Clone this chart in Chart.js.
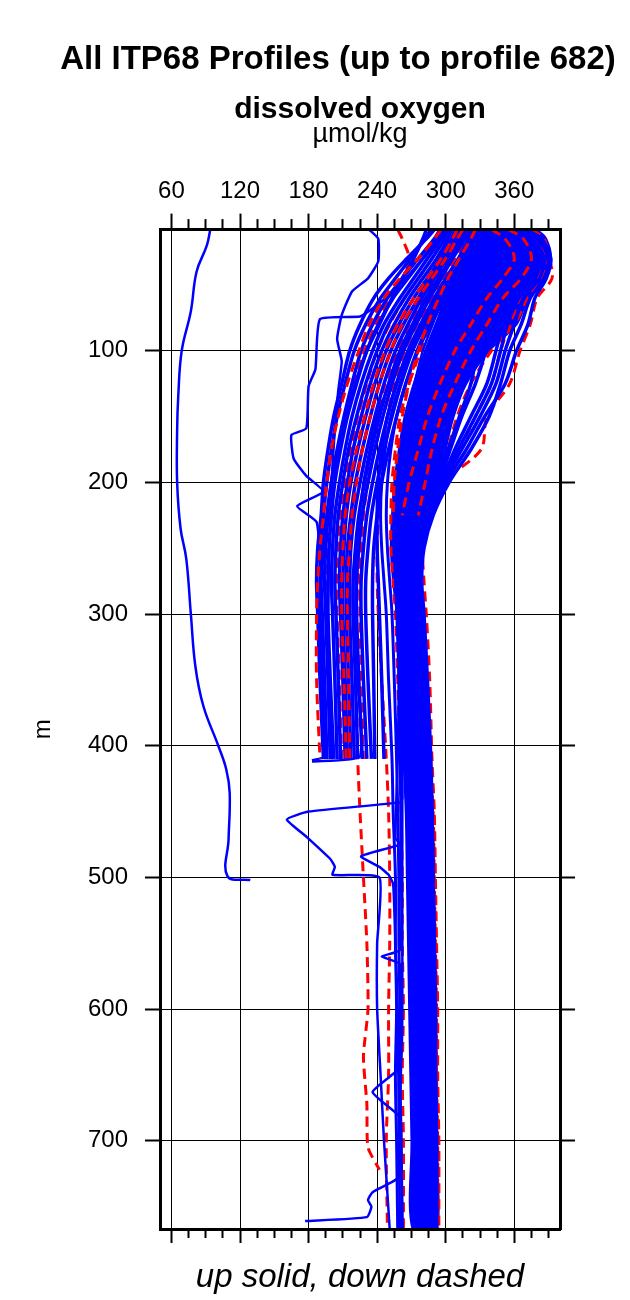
<!DOCTYPE html>
<html>
<head>
<meta charset="utf-8">
<title>All ITP68 Profiles - dissolved oxygen</title>
<script src="https://cdn.jsdelivr.net/npm/chart.js@4.4.1/dist/chart.umd.min.js"></script>
<style>
    html, body { margin: 0; padding: 0; background: #fff; }
    #wrap { width: 630px; height: 1300px; }
</style>
</head>
<body>
<div id="wrap"><canvas id="profileChart" width="630" height="1300"></canvas></div>
<script>
// axis ranges and tick labels
const oxygenRange = [50, 400];
const depthRange = [8, 767];
const oxygenTicks = [60, 120, 180, 240, 300, 360];
const depthTicks = [100, 200, 300, 400, 500, 600, 700];

// depth levels (m) shared by the smooth profiles below
const depthLevels = [8, 15, 30, 45, 60, 80, 100, 125, 150, 175, 200, 225, 250, 275, 300, 350, 410, 450, 500, 550, 600, 650, 700, 767];

// dense core of the up profiles, left and right edge (umol/kg)
const coreLeft  = [335, 330, 318, 308, 300, 291, 282, 272, 264, 259, 255, 253, 252, 254, 257, 260, 263, 265, 266, 267, 268, 269, 270, 271];
const coreRight = [380, 388, 392, 384, 372, 362, 338, 318, 307, 300, 295, 283, 273, 275, 278, 281, 284, 286, 288, 289, 290, 291, 291, 292];

// up profiles of the fan that stop near 410 m
const upFan = [
    [283, 280, 272, 262, 253, 242, 231, 221, 213, 206, 200, 196, 193, 191, 192, 194, 196],
    [287, 282, 269, 256, 243, 230, 220, 212, 205, 200, 196, 193, 191, 190, 190, 192, 195],
    [290, 283, 266, 250, 237, 225, 216, 209, 202, 197, 193, 191, 188, 187, 188, 190, 193],
    [295, 290, 276, 262, 249, 236, 226, 218, 211, 205, 200, 197, 195, 194, 195, 197, 199],
    [298, 293, 280, 267, 254, 241, 231, 222, 214, 208, 203, 200, 198, 197, 197, 199, 202],
    [300, 296, 284, 272, 260, 246, 236, 226, 218, 212, 207, 203, 201, 200, 201, 203, 205],
    [303, 299, 288, 276, 264, 250, 240, 230, 222, 215, 210, 206, 204, 203, 204, 206, 208],
    [305, 302, 292, 280, 268, 255, 244, 234, 226, 219, 214, 210, 208, 207, 208, 210, 212],
    [308, 305, 295, 284, 272, 259, 248, 238, 230, 223, 217, 213, 211, 210, 210, 212, 214],
    [312, 308, 298, 287, 276, 263, 252, 242, 234, 227, 221, 217, 214, 213, 213, 215, 217],
    [315, 311, 301, 290, 279, 267, 256, 246, 238, 231, 225, 220, 217, 216, 216, 218, 220],
    [318, 314, 305, 294, 283, 271, 260, 250, 242, 235, 229, 224, 221, 219, 219, 221, 223],
    [322, 317, 306, 296, 286, 274, 263, 253, 245, 238, 232, 227, 224, 222, 222, 224, 227],
    [325, 320, 311, 300, 290, 278, 267, 257, 249, 242, 236, 231, 228, 226, 226, 228, 231],
    [328, 323, 314, 304, 294, 282, 271, 261, 253, 246, 240, 235, 232, 230, 230, 232, 235],
    [330, 325, 315, 306, 296, 285, 275, 265, 257, 250, 244, 240, 237, 236, 236, 237, 238],
    [334, 328, 318, 304, 292, 279, 268, 257, 249, 244, 241, 240, 240, 241, 242, 244, 246]
];

// up profiles that reach the bottom
const upMid = [
    [338, 332, 320, 306, 294, 281, 270, 260, 252, 247, 244, 243, 244, 246, 248, 250, 253, 254, 256, 256, 257, 256, 257, 258],
    [342, 336, 324, 312, 300, 287, 276, 265, 257, 252, 249, 248, 249, 251, 253, 255, 257, 258, 259, 259, 260, 260, 261, 262]
];
const upRight = [
    [370, 384, 392, 388, 378, 372, 362, 352, 334, 318, 300, 287, 280, 278, 280, 283, 286, 288, 289, 290, 291, 291, 292, 292],
    [366, 380, 390, 386, 374, 366, 356, 348, 338, 322, 303, 289, 281, 279, 281, 284, 287, 288, 289, 290, 291, 291, 292, 292],
    [362, 376, 386, 382, 368, 360, 352, 344, 330, 314, 298, 286, 278, 277, 279, 282, 285, 287, 288, 289, 290, 290, 291, 291],
    [356, 372, 383, 378, 364, 354, 348, 340, 326, 311, 297, 285, 277, 277, 279, 282, 285, 287, 288, 289, 290, 290, 291, 291],
    [352, 368, 380, 376, 360, 350, 344, 336, 322, 308, 296, 284, 276, 276, 278, 281, 284, 286, 287, 288, 289, 290, 290, 291],
    [345, 360, 372, 366, 352, 340, 335, 326, 314, 304, 294, 282, 274, 275, 277, 280, 283, 285, 287, 288, 289, 289, 290, 290],
    [340, 355, 366, 360, 346, 335, 328, 322, 312, 302, 292, 281, 273, 274, 277, 280, 283, 285, 287, 288, 289, 289, 290, 290]
];

// odd up profiles, [oxygen, depth] pairs
const upFarLeft = [[94, 8], [91, 20], [82, 40], [77, 70], [69, 100], [66, 134], [65, 160], [65, 200], [68, 235], [73, 258], [77, 300], [81, 340], [88, 370], [101, 400], [108, 418], [111, 436], [110, 471], [109, 499], [129, 502]];
const upHook410 = [[316, 8], [304, 30], [282, 60], [262, 100], [240, 150], [228, 200], [222, 250], [221, 300], [223, 350], [225, 408], [183, 412]];
const upLoop450 = [[340, 8], [318, 30], [298, 60], [280, 100], [266, 150], [258, 200], [255, 250], [257, 300], [259, 350], [261, 410], [262, 440], [260, 443], [180, 450], [161, 456], [178, 469], [199, 486], [203, 492], [201, 498], [242, 500], [240, 550], [240, 600], [243, 650], [246, 700], [251, 767]];
const upHook760 = [[345, 8], [325, 30], [305, 60], [286, 100], [269, 150], [260, 200], [257, 250], [258, 300], [259, 350], [260, 410], [261, 500], [260, 555], [244, 560], [260, 566], [261, 640], [259, 700], [260, 727], [236, 739], [232, 745], [235, 750], [231, 758], [177, 761]];
const upKink663 = [[348, 8], [330, 30], [310, 60], [290, 100], [272, 150], [262, 200], [259, 250], [260, 300], [261, 350], [262, 410], [262, 500], [262, 600], [260, 644], [236, 663], [260, 682], [261, 700], [262, 767]];
const upLoop480 = [[350, 8], [333, 30], [313, 60], [292, 100], [274, 150], [263, 200], [258, 250], [258, 300], [259, 350], [258, 410], [256, 470], [260, 475], [226, 484], [242, 492], [250, 498], [254, 505], [256, 550], [258, 600], [259, 700], [260, 767]];
const upTopLeftA = [[233, 8], [241, 15], [241, 32], [232, 45], [218, 55], [209, 73], [205, 91], [209, 108], [206, 130], [203, 160], [200, 200], [198, 250], [197, 300], [198, 350], [201, 410]];
const upTopLeftB = [[300, 8], [290, 20], [270, 40], [250, 58], [236, 68], [225, 74], [190, 76], [186, 114], [180, 127], [178, 159], [165, 164], [167, 182], [178, 195], [193, 207], [170, 218], [187, 230], [190, 260], [191, 300], [192, 350], [194, 408], [183, 411]];

// down profiles (dashed) of the fan; the first three lie over the blue
const downFanOver = [
    [296, 290, 276, 260, 246, 233, 224, 214, 206, 200, 196, 193, 190, 188, 187, 187, 190],
    [315, 310, 300, 288, 276, 262, 252, 242, 234, 227, 222, 218, 216, 214, 214, 215, 216],
    [310, 306, 296, 284, 272, 258, 247, 237, 229, 222, 216, 212, 210, 209, 209, 211, 213]
];
const downFanUnder = [
    [302, 298, 288, 276, 264, 251, 240, 231, 223, 217, 212, 208, 206, 205, 205, 207, 209],
    [258, 262, 268, 262, 251, 239, 229, 220, 212, 206, 202, 199, 197, 196, 196, 198, 201],
    [322, 318, 308, 297, 286, 274, 263, 253, 245, 238, 232, 228, 226, 225, 225, 226, 228]
];
const downFull = [
    [330, 324, 312, 300, 288, 275, 264, 255, 249, 245, 242, 241, 240, 240, 241, 244, 248, 250, 251, 251, 250, 250, 248, 249],
    [332, 326, 315, 304, 296, 286, 278, 268, 260, 256, 253, 252, 252, 254, 256, 258, 260, 261, 262, 262, 263, 262, 263, 263],
    [375, 386, 390, 384, 372, 360, 340, 322, 310, 302, 296, 286, 280, 281, 283, 286, 288, 290, 291, 292, 293, 293, 294, 294],
    [360, 378, 390, 393, 380, 374, 365, 356, 336, 331, 298, 284, 277, 277, 279, 283, 286, 289, 290, 291, 292, 292, 293, 293],
    [350, 372, 386, 380, 366, 356, 348, 340, 326, 312, 297, 285, 277, 276, 278, 282, 285, 288, 289, 290, 291, 292, 292, 292]
];
const downDeep722 = [[320, 8], [314, 15], [304, 30], [292, 45], [281, 60], [268, 80], [258, 100], [247, 125], [240, 150], [234, 175], [230, 200], [227, 225], [225, 250], [223, 275], [222, 300], [222, 350], [223, 410], [225, 450], [228, 500], [231, 550], [232, 600], [228, 636], [231, 672], [232, 705], [242, 722]];

// down profiles drawn over the upper core
const downTop = [
    [340, 352, 360, 350, 336, 322, 308, 295, 284, 276, 268, 262],
    [355, 368, 375, 366, 350, 336, 322, 308, 296, 288, 282, 276],
    [326, 322, 312, 302, 294, 284, 276, 268, 262, 258, 255, 254]
];

const FONT = '"Liberation Sans", Arial, Helvetica, sans-serif';
const BLUE = '#0000ff';
const RED = '#ff0000';

const ProfileChart = {
    init: function() {
        Chart.defaults.font.family = FONT;
        Chart.defaults.color = '#000';
        this.draw();
    },

    // values on the shared depth levels -> points
    levelPoints: function(values) {
        const pts = [];
        values.forEach((v, i) => {
            if (v != null) pts.push({x: v, y: depthLevels[i]});
        });
        return pts;
    },

    pairPoints: function(pairs) {
        return pairs.map(p => ({x: p[0], y: p[1]}));
    },

    upLine: function(points, width, tension) {
        return {
            data: points, showLine: true, borderColor: BLUE, borderWidth: width,
            pointRadius: 0, tension: tension, fill: false, order: 1
        };
    },

    downLine: function(points, tension, order) {
        return {
            data: points, showLine: true, borderColor: RED, borderWidth: 3,
            borderDash: [10, 6], pointRadius: 0, tension: tension, fill: false, order: order
        };
    },

    buildDatasets: function() {
        const sets = [];

        // solid core band, closed shape: left edge down, right edge back up
        const corePts = this.levelPoints(coreLeft).concat(this.levelPoints(coreRight).reverse());
        sets.push({
            data: corePts, showLine: true, fill: 'shape', backgroundColor: BLUE,
            borderColor: BLUE, borderWidth: 2, pointRadius: 0, tension: 0.3, order: 3
        });

        downFanUnder.forEach(v => sets.push(this.downLine(this.levelPoints(v), 0.3, 2)));
        downFull.forEach(v => sets.push(this.downLine(this.levelPoints(v), 0.3, 2)));
        sets.push(this.downLine(this.pairPoints(downDeep722), 0.2, 2));
        downFanOver.forEach(v => sets.push(this.downLine(this.levelPoints(v), 0.3, 0)));
        downTop.forEach(v => sets.push(this.downLine(this.levelPoints(v), 0.3, 0)));

        upFan.forEach(v => sets.push(this.upLine(this.levelPoints(v), 3.5, 0.3)));
        upMid.forEach(v => sets.push(this.upLine(this.levelPoints(v), 3, 0.3)));
        upRight.forEach(v => sets.push(this.upLine(this.levelPoints(v), 3.5, 0.3)));

        sets.push(this.upLine(this.pairPoints(upFarLeft), 2.5, 0.4));
        [upHook410, upLoop450, upHook760, upKink663, upLoop480, upTopLeftA, upTopLeftB].forEach(p => {
            sets.push(this.upLine(this.pairPoints(p), 2.5, 0.15));
        });
        return sets;
    },

    draw: function() {
        const isMajorX = ctx => ctx.tick && oxygenTicks.includes(ctx.tick.value);
        const tickFont = {family: FONT, size: 24};

        new Chart(document.getElementById('profileChart'), {
            type: 'scatter',
            data: {datasets: this.buildDatasets()},
            options: {
                responsive: false,
                animation: false,
                events: [],
                layout: {padding: {left: 46, right: 0, top: 0, bottom: 0}},
                plugins: {
                    legend: {display: false},
                    tooltip: {enabled: false},
                    title: {
                        display: true,
                        text: 'All ITP68 Profiles (up to profile 682)',
                        color: '#000',
                        font: {family: FONT, size: 33, weight: 'bold'},
                        padding: {top: 40, bottom: 0}
                    },
                    subtitle: {
                        display: true,
                        fullSize: false,
                        text: 'dissolved oxygen',
                        color: '#000',
                        font: {family: FONT, size: 30, weight: 'bold'},
                        padding: {top: 12, bottom: 0}
                    }
                },
                scales: {
                    x: {
                        type: 'linear', position: 'top',
                        min: oxygenRange[0], max: oxygenRange[1],
                        afterFit: s => { s.height = 102; },
                        border: {display: true, color: '#000', width: 3, z: 1},
                        grid: {
                            color: ctx => isMajorX(ctx) ? '#000' : 'rgba(0,0,0,0)',
                            lineWidth: 1,
                            tickColor: '#000', tickWidth: 2, tickLength: 16,
                            tickBorderDash: ctx => isMajorX(ctx) ? [] : [10, 100],
                            tickBorderDashOffset: ctx => isMajorX(ctx) ? 0 : 104.5
                        },
                        ticks: {
                            stepSize: 15, includeBounds: false, autoSkip: false,
                            maxRotation: 0, minRotation: 0, padding: 8,
                            font: tickFont, color: '#000',
                            callback: v => oxygenTicks.includes(v) ? String(v) : ''
                        },
                        title: {
                            display: true, text: 'µmol/kg', color: '#000',
                            font: {family: FONT, size: 27},
                            padding: {top: -9, bottom: 0}
                        }
                    },
                    x2: {
                        type: 'linear', position: 'bottom',
                        min: oxygenRange[0], max: oxygenRange[1],
                        afterFit: s => { s.height = 71; },
                        border: {display: true, color: '#000', width: 3, z: 1},
                        grid: {
                            drawOnChartArea: false,
                            tickColor: '#000', tickWidth: 2, tickLength: 14,
                            tickBorderDash: ctx => isMajorX(ctx) ? [] : [7, 100],
                            tickBorderDashOffset: 0
                        },
                        ticks: {
                            stepSize: 15, includeBounds: false, autoSkip: false,
                            maxRotation: 0, minRotation: 0, callback: () => ''
                        },
                        title: {
                            display: true, text: 'up solid, down dashed', color: '#000',
                            font: {family: FONT, size: 33, style: 'italic'},
                            padding: {top: 0, bottom: 2}
                        }
                    },
                    y: {
                        type: 'linear', position: 'left', reverse: true,
                        min: depthRange[0], max: depthRange[1],
                        afterFit: s => { s.width = 114; },
                        border: {display: true, color: '#000', width: 3, z: 1},
                        grid: {color: '#000', lineWidth: 1, tickColor: '#000', tickWidth: 2, tickLength: 15},
                        ticks: {
                            stepSize: 100, includeBounds: false, autoSkip: false, padding: 17,
                            font: tickFont, color: '#000',
                            callback: v => depthTicks.includes(v) ? String(v) : ''
                        },
                        title: {
                            display: true, text: 'm', color: '#000',
                            font: {family: FONT, size: 24},
                            padding: {top: -17, bottom: 0}
                        }
                    },
                    y2: {
                        type: 'linear', position: 'right', reverse: true,
                        min: depthRange[0], max: depthRange[1],
                        afterFit: s => { s.width = 70; },
                        border: {display: true, color: '#000', width: 3, z: 1},
                        grid: {drawOnChartArea: false, tickColor: '#000', tickWidth: 2, tickLength: 15},
                        ticks: {stepSize: 100, includeBounds: false, autoSkip: false, callback: () => ''}
                    }
                }
            }
        });
    }
};

ProfileChart.init();
</script>
</body>
</html>
